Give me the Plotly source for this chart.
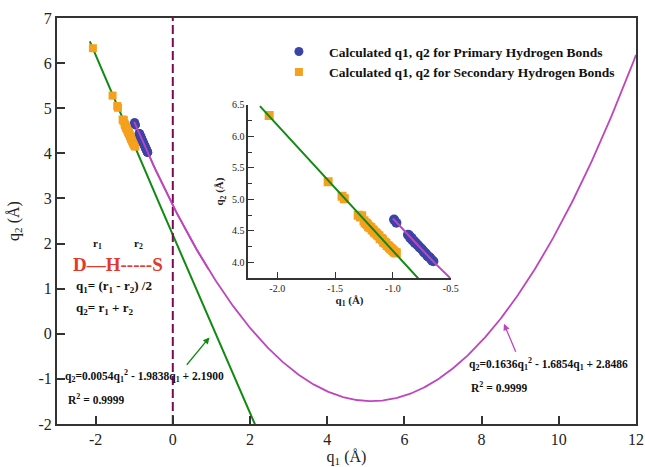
import numpy as np
import plotly.graph_objects as go

# ---------------- data ----------------
primary_q1 = [-0.99, -0.97, -0.87, -0.86, -0.85, -0.84, -0.83, -0.82, -0.81, -0.80,
              -0.79, -0.78, -0.77, -0.76, -0.75, -0.74, -0.73, -0.72, -0.71, -0.70,
              -0.69, -0.68, -0.67, -0.66, -0.65]
primary_q2 = [4.68, 4.63, 4.44, 4.43, 4.39, 4.39, 4.35, 4.35, 4.31, 4.31,
              4.28, 4.27, 4.24, 4.23, 4.21, 4.19, 4.16, 4.15, 4.13, 4.10,
              4.09, 4.08, 4.05, 4.03, 4.02]

secondary_q1 = [-2.07, -1.56, -1.44, -1.42, -1.30, -1.28, -1.27, -1.25, -1.24, -1.23,
                -1.22, -1.21, -1.20, -1.19, -1.18, -1.17, -1.16, -1.15, -1.14, -1.13,
                -1.12, -1.11, -1.10, -1.09, -1.08, -1.07, -1.06, -1.05, -1.04, -1.03,
                -1.02, -1.01, -1.00, -0.99, -0.98, -0.97]
secondary_q2 = [6.33, 5.28, 5.05, 5.01, 4.75, 4.72, 4.74, 4.66, 4.63, 4.62,
                4.60, 4.57, 4.56, 4.55, 4.52, 4.51, 4.48, 4.47, 4.45, 4.43,
                4.42, 4.38, 4.38, 4.36, 4.32, 4.32, 4.30, 4.27, 4.26, 4.24,
                4.22, 4.21, 4.19, 4.17, 4.16, 4.15]

# fitted polynomial coefficients shown on the chart (a*q1^2 + b*q1 + c)
secondary_fit = [0.0054, -1.9838, 2.1900]
primary_fit = [0.1636, -1.6854, 2.8486]
secondary_fit_range = [-2.15, 2.3]
primary_fit_range = [-1.0, 12.0]

x_ticks_main = [-2, 0, 2, 4, 6, 8, 10, 12]
y_ticks_main = [-2, -1, 0, 1, 2, 3, 4, 5, 6, 7]
x_ticks_inset = [-2.0, -1.5, -1.0, -0.5]
y_ticks_inset = [4.0, 4.5, 5.0, 5.5, 6.0, 6.5]

BLUE = "#3a44a6"
ORANGE = "#f5a11e"
GREEN = "#118a11"
MAGENTA = "#bf45bf"
DASH = "#7a0a58"
RED = "#e3382a"
FONT = "Liberation Serif"

gx = np.linspace(secondary_fit_range[0], secondary_fit_range[1], 200)
gy = np.polyval(secondary_fit, gx)
mx = np.linspace(primary_fit_range[0], primary_fit_range[1], 400)
my = np.polyval(primary_fit, mx)

fig = go.Figure()

# main panel
fig.add_trace(go.Scatter(x=gx, y=gy, mode="lines", line=dict(color=GREEN, width=2),
                         showlegend=False, hoverinfo="skip"))
fig.add_trace(go.Scatter(x=mx, y=my, mode="lines", line=dict(color=MAGENTA, width=1.8),
                         showlegend=False, hoverinfo="skip"))
fig.add_trace(go.Scatter(x=[0, 0], y=[-2, 7], mode="lines",
                         line=dict(color=DASH, width=2, dash="9px,4px"),
                         showlegend=False, hoverinfo="skip"))
fig.add_trace(go.Scatter(x=primary_q1, y=primary_q2, mode="markers",
                         marker=dict(color=BLUE, size=9, symbol="circle"),
                         name="<b>Calculated q1, q2 for Primary Hydrogen Bonds</b>"))
fig.add_trace(go.Scatter(x=secondary_q1, y=secondary_q2, mode="markers",
                         marker=dict(color=ORANGE, size=8, symbol="square"),
                         name="<b>Calculated q1, q2 for Secondary Hydrogen Bonds</b>"))
fig.add_trace(go.Scatter(x=primary_q1, y=primary_q2, mode="markers",
                         marker=dict(color=BLUE, size=9, symbol="circle"),
                         showlegend=False, hoverinfo="skip"))
fig.add_trace(go.Scatter(x=mx[:60], y=my[:60], mode="lines", line=dict(color=MAGENTA, width=1.8),
                         showlegend=False, hoverinfo="skip"))

# inset panel
fig.add_trace(go.Scatter(x=secondary_q1, y=secondary_q2, mode="markers",
                         marker=dict(color=ORANGE, size=9, symbol="square"),
                         xaxis="x2", yaxis="y2", showlegend=False))
fig.add_trace(go.Scatter(x=gx, y=gy, mode="lines", line=dict(color=GREEN, width=2),
                         xaxis="x2", yaxis="y2", showlegend=False, hoverinfo="skip"))
fig.add_trace(go.Scatter(x=primary_q1, y=primary_q2, mode="markers",
                         marker=dict(color=BLUE, size=10, symbol="circle"),
                         xaxis="x2", yaxis="y2", showlegend=False))
fig.add_trace(go.Scatter(x=mx, y=my, mode="lines", line=dict(color=MAGENTA, width=2),
                         xaxis="x2", yaxis="y2", showlegend=False, hoverinfo="skip"))

axis_common = dict(showgrid=False, zeroline=False, showline=True, ticks="inside",
                   color="#222", automargin=False)

def lab(v):
    return str(v).replace("−", "-")

fig.update_layout(
    width=645, height=467,
    margin=dict(l=57, r=9, t=18, b=43),
    paper_bgcolor="white", plot_bgcolor="white",
    font=dict(family=FONT, color="#111"),
    xaxis=dict(**axis_common, range=[-3, 12], tickvals=x_ticks_main,
               ticktext=[lab(v) for v in x_ticks_main], linewidth=2,
               linecolor="#333", mirror=True, ticklen=8, tickwidth=1.5, tickcolor="#333",
               tickfont=dict(family=FONT, size=16),
               title=dict(text="q<sub>1</sub> (Å)", font=dict(family=FONT, size=16))),
    yaxis=dict(**axis_common, range=[-2, 7], tickvals=y_ticks_main,
               ticktext=[lab(v) for v in y_ticks_main], linewidth=2,
               linecolor="#333", mirror=True, ticklen=8, tickwidth=1.5, tickcolor="#333",
               tickfont=dict(family=FONT, size=16),
               title=dict(text="q<sub>2</sub> (Å)", font=dict(family=FONT, size=16))),
    xaxis2=dict(**axis_common, domain=[0.3305, 0.68], anchor="y2", range=[-2.25, -0.5],
                tickvals=x_ticks_inset, ticktext=[f"{v:.1f}" for v in x_ticks_inset],
                linewidth=1.5, linecolor="#333", ticklen=6, tickcolor="#333",
                tickfont=dict(family=FONT, size=10),
                title=dict(text="<b>q<sub>1</sub> (Å)</b>", font=dict(family=FONT, size=11),
                           standoff=3)),
    yaxis2=dict(**axis_common, domain=[0.359, 0.786], anchor="x2", range=[3.75, 6.5],
                tickvals=y_ticks_inset, ticktext=[f"{v:.1f}" for v in y_ticks_inset],
                linewidth=1.5, linecolor="#333", ticklen=6, tickcolor="#333",
                minor=dict(dtick=0.25, tick0=0, ticks="inside", ticklen=4, tickcolor="#333"),
                tickfont=dict(family=FONT, size=10),
                title=dict(text="<b>q<sub>2</sub> (Å)</b>", font=dict(family=FONT, size=11),
                           standoff=6)),
    legend=dict(x=0.366, y=0.955, xanchor="left", yanchor="top", bgcolor="rgba(0,0,0,0)",
                font=dict(family=FONT, size=13.5, color="#111"), itemwidth=50,
                tracegroupgap=0),
)

def ann(x, y, text, size=12, color="#111", **kw):
    fig.add_annotation(x=x, y=y, xref="x", yref="y", text=text, showarrow=False,
                       font=dict(family=FONT, size=size, color=color), borderpad=0, **kw)

# D-H...S scheme
ann(-1.42, 1.54, "<b>D—H-----S</b>", size=19, color=RED)
ann(-1.95, 1.99, "<b>r<sub>1</sub></b>", size=11)
ann(-0.9, 1.99, "<b>r<sub>2</sub></b>", size=11)
ann(-2.53, 1.04, "<b>q<sub>1</sub>= (r<sub>1</sub> - r<sub>2</sub>) /2</b>", size=13, xanchor="left")
ann(-2.53, 0.57, "<b>q<sub>2</sub>= r<sub>1</sub> + r<sub>2</sub></b>", size=13, xanchor="left")

# secondary fit equation
ann(-2.82, -0.93, "<b>q<sub>2</sub>=0.0054q<sub>1</sub><sup>2</sup> - 1.9838q<sub>1</sub> + 2.1900</b>",
    size=11.5, xanchor="left")
ann(-2.74, -1.44, "<b>R<sup>2</sup> = 0.9999</b>", size=11.5, xanchor="left")
fig.add_annotation(x=0.95, y=-0.08, ax=0.33, ay=-0.72, xref="x", yref="y", axref="x", ayref="y",
                   showarrow=True, arrowhead=2, arrowsize=1, arrowwidth=1.3, arrowcolor=GREEN, text="")

# primary fit equation
ann(7.65, -0.67, "<b>q<sub>2</sub>=0.1636q<sub>1</sub><sup>2</sup> - 1.6854q<sub>1</sub> + 2.8486</b>",
    size=11.5, xanchor="left")
ann(7.7, -1.18, "<b>R<sup>2</sup> = 0.9999</b>", size=11.5, xanchor="left")
fig.add_annotation(x=8.58, y=0.22, ax=8.9, ay=-0.43, xref="x", yref="y", axref="x", ayref="y",
                   showarrow=True, arrowhead=2, arrowsize=1, arrowwidth=1.3, arrowcolor=MAGENTA, text="")

fig.write_html("out.html")
